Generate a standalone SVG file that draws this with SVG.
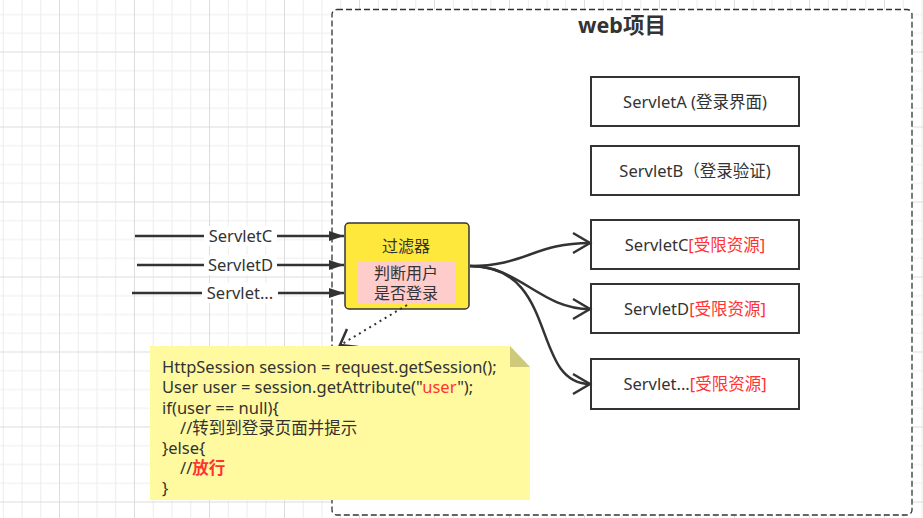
<svg xmlns="http://www.w3.org/2000/svg" width="923" height="518" viewBox="0 0 923 518">
<defs>
<pattern id="grid" patternUnits="userSpaceOnUse" x="-16" y="-23.5" width="75" height="75">
<path d="M19.25 0V75M38 0V75M56.75 0V75M0 19.25H75M0 38H75M0 56.75H75" stroke="#ececec" stroke-width="1" fill="none"/>
<path d="M0.5 0V75M0 0.5H75" stroke="#dcdcdc" stroke-width="1" fill="none"/>
</pattern>
<marker id="tri" markerUnits="userSpaceOnUse" markerWidth="16" markerHeight="12" refX="15" refY="6" orient="auto">
<path d="M0 1L15 6L0 11Z" fill="#333"/>
</marker>
<marker id="open" markerUnits="userSpaceOnUse" markerWidth="22" markerHeight="24" refX="19" refY="12" orient="auto">
<path d="M2 2L19 12L2 22" fill="none" stroke="#333" stroke-width="2.5"/>
</marker>
</defs>
<style>
text{font-family:"Segoe UI","Noto Sans","Noto Sans CJK SC",sans-serif;fill:#333}
.box{fill:#fff;stroke:#333;stroke-width:2}
.lbl{font-size:16.5px;text-anchor:middle}
.red{fill:#ff3333}
.code{font-size:16.5px}
.edge{fill:none;stroke:#333;stroke-width:2.5}
</style>
<rect width="923" height="518" fill="#fff"/>
<rect width="923" height="518" fill="url(#grid)"/>
<g id="web-project">
<rect x="332" y="9.5" width="580" height="505.5" rx="5" fill="#fff" stroke="#333" stroke-width="1.3" stroke-dasharray="6 3"/>
<text x="622" y="33" font-size="21.5" font-weight="bold" text-anchor="middle">web项目</text>
</g>
<g id="servletA"><rect class="box" x="591" y="77" width="208" height="49"/><text class="lbl" x="695" y="107.5">ServletA (登录界面)</text></g>
<g id="servletB"><rect class="box" x="591" y="146" width="208" height="49"/><text class="lbl" x="695" y="176.5">ServletB（登录验证)</text></g>
<g id="servletC"><rect class="box" x="591" y="220" width="208" height="49"/><text class="lbl" x="695" y="250.5">ServletC<tspan class="red">[受限资源]</tspan></text></g>
<g id="servletD"><rect class="box" x="591" y="284" width="208" height="49"/><text class="lbl" x="695" y="314.5">ServletD<tspan class="red">[受限资源]</tspan></text></g>
<g id="servletE"><rect class="box" x="591" y="359" width="208" height="50"/><text class="lbl" x="695" y="390">Servlet...<tspan class="red">[受限资源]</tspan></text></g>
<g id="filter">
<rect x="345" y="223" width="124" height="86" rx="4" fill="#ffe83c" stroke="#333" stroke-width="1.5"/>
<text x="406" y="252" font-size="16" text-anchor="middle">过滤器</text>
<rect x="357" y="262" width="98" height="42" fill="#ffcccc"/>
<text x="406" y="279" font-size="16" text-anchor="middle">判断用户</text>
<text x="406" y="299" font-size="16" text-anchor="middle">是否登录</text>
</g>
<g id="connectors">
<path class="edge" d="M135 236H344" marker-end="url(#tri)"/>
<path class="edge" d="M137 265H344" marker-end="url(#tri)"/>
<path class="edge" d="M132 293H344" marker-end="url(#tri)"/>
<rect x="204" y="226" width="73" height="20" fill="#fff"/>
<rect x="204" y="255" width="73" height="20" fill="#fff"/>
<rect x="202" y="283" width="76" height="20" fill="#fff"/>
<text class="lbl" x="240.5" y="242">ServletC</text>
<text class="lbl" x="240.5" y="271">ServletD</text>
<text class="lbl" x="240" y="299">Servlet...</text>
<path class="edge" d="M470 266C525 266 535 243 590 243" marker-end="url(#open)"/>
<path class="edge" d="M470 266C520 266 540 309 590 309" marker-end="url(#open)"/>
<path class="edge" d="M470 266C560 266 530 384 590 384" marker-end="url(#open)"/>
<path d="M407 305L342 344" fill="none" stroke="#333" stroke-width="2" stroke-dasharray="2 4"/>
<path d="M347 329L340 345L358 347" fill="none" stroke="#333" stroke-width="2.5"/>
</g>
<g id="note">
<path d="M150 346H510L530 367V500H150Z" fill="#fffa9f"/>
<path d="M510 346L530 367H510Z" fill="#cfca7a"/>
<text class="code" x="162" y="373">HttpSession session = request.getSession();</text>
<text class="code" x="162" y="393">User user = session.getAttribute("<tspan class="red">user</tspan>");</text>
<text class="code" x="162" y="414">if(user == null){</text>
<text class="code" x="180" y="434">//转到到登录页面并提示</text>
<text class="code" x="162" y="454">}else{</text>
<text class="code" x="180" y="474">//<tspan class="red" font-weight="bold">放行</tspan></text>
<text class="code" x="162" y="494">}</text>
</g>
</svg>
